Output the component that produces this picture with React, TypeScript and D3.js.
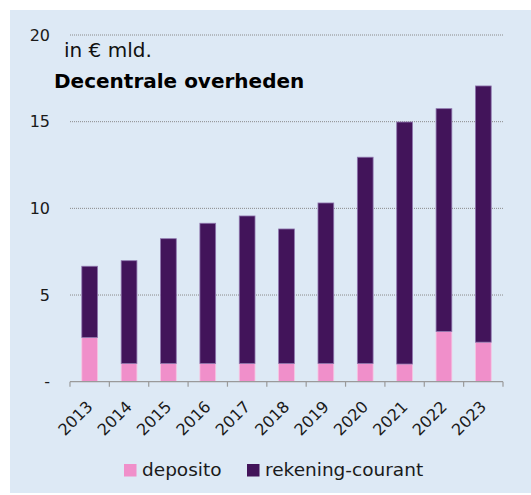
import React from 'react';
import * as d3 from 'd3';

const years = ['2013', '2014', '2015', '2016', '2017', '2018', '2019', '2020', '2021', '2022', '2023'];
const deposito = [2.55, 1.05, 1.05, 1.05, 1.05, 1.05, 1.05, 1.05, 1.02, 2.9, 2.28];
const totals = [6.66, 6.98, 8.25, 9.14, 9.56, 8.81, 10.31, 12.95, 14.98, 15.75, 17.06];
const rekening = totals.map((t, i) => +(t - deposito[i]).toFixed(2));
const yTicks = [0, 5, 10, 15, 20];
const seriesNames = ['deposito', 'rekening-courant'];
const colors = ['#f08fca', '#42145a'];

const W = 531;
const H = 495;
const font = 'Verdana, "DejaVu Sans", sans-serif';

const App = () => {
  const x = d3.scaleBand().domain(years).range([70, 503]).paddingInner(0.6).paddingOuter(0.3);
  const y = d3.scaleLinear().domain([0, 20]).range([381.7, 35]);

  const table = years.map((yr, i) => ({ year: yr, deposito: deposito[i], 'rekening-courant': rekening[i] }));
  const stacked = d3.stack<any>().keys(seriesNames)(table);

  const edges = d3.range(years.length + 1).map((i) => 70 + i * (433 / years.length));

  return (
    <svg width={W} height={H} style={{ position: 'absolute', left: 0, top: 0 }} fontFamily={font}>
      <rect x={0} y={0} width={W} height={H} fill="#ffffff" />
      <rect x={10} y={10} width={W - 10} height={483} fill="#dde9f5" />

      {yTicks.map((t) => (
        <g key={t}>
          {t > 0 && (
            <line x1={70} x2={503} y1={y(t)} y2={y(t)} stroke="#8a8a8a" strokeWidth={1} strokeDasharray="1,1" />
          )}
          <text x={50} y={y(t)} dy="0.35em" textAnchor="end" fontSize={16} fill="#1a1a1a">
            {t === 0 ? '-' : t}
          </text>
        </g>
      ))}

      {stacked.map((s, si) => (
        <g key={s.key} fill={colors[si]}>
          {s.map((d, i) => (
            <rect
              key={i}
              x={x(years[i])}
              y={y(d[1])}
              width={x.bandwidth()}
              height={y(d[0]) - y(d[1])}
              stroke={si === 0 ? '#f7c4e2' : '#8e75ad'}
              strokeWidth={0.8}
            />
          ))}
        </g>
      ))}

      <line x1={70} x2={503} y1={y(0)} y2={y(0)} stroke="#9a9a9a" strokeWidth={1.2} />
      {edges.map((e, i) => (
        <line key={i} x1={e} x2={e} y1={y(0)} y2={y(0) + 5} stroke="#9a9a9a" strokeWidth={1.2} />
      ))}

      {years.map((yr) => {
        const cx = (x(yr) as number) + x.bandwidth() / 2;
        return (
          <text
            key={yr}
            transform={`translate(${cx + 4},${y(0) + 26}) rotate(-45)`}
            textAnchor="end"
            fontSize={16}
            fill="#1a1a1a"
          >
            {yr}
          </text>
        );
      })}

      <text x={64} y={57} fontSize={20} fill="#111">in € mld.</text>
      <text x={54} y={88} fontSize={20} fontWeight="bold" fill="#000">Decentrale overheden</text>

      <g>
        <rect x={124} y={464} width={12.5} height={12.5} fill={colors[0]} />
        <text x={142} y={476} fontSize={18.5} fill="#1a1a1a">{seriesNames[0]}</text>
        <rect x={247} y={464} width={12.5} height={12.5} fill={colors[1]} />
        <text x={265} y={476} fontSize={18.5} fill="#1a1a1a">{seriesNames[1]}</text>
      </g>
    </svg>
  );
};

export default App;
